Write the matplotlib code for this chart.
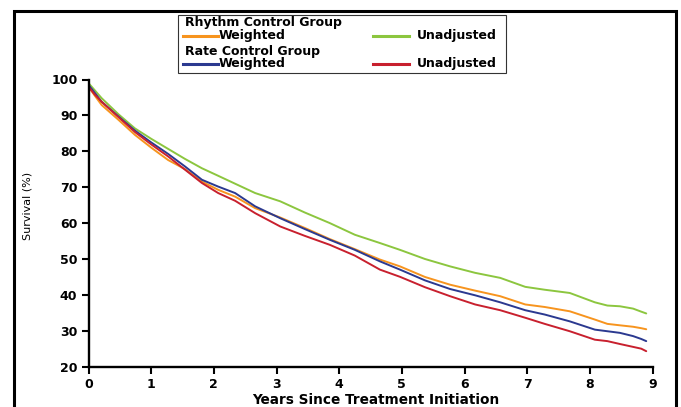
import matplotlib
matplotlib.use("Agg")
import matplotlib.pyplot as plt
from matplotlib.lines import Line2D
from matplotlib.patches import Rectangle

# ---- data ----
years = [0, 0.1, 0.21, 0.48, 0.74, 1.0, 1.27, 1.54, 1.81, 2.07, 2.34, 2.66, 3.06,
         3.45, 3.85, 4.25, 4.65, 4.97, 5.37, 5.77, 6.17, 6.57, 6.97, 7.28, 7.68,
         8.08, 8.28, 8.48, 8.69, 8.82, 8.9]
rhythm_weighted = [98.0, 95.5, 92.9, 88.75, 84.6, 81.05, 77.6, 75.05, 71.6, 69.3, 67.4,
                   64.2, 61.6, 58.7, 55.6, 52.8, 49.9, 48.0, 45.05, 42.9, 41.25, 39.7,
                   37.4, 36.7, 35.5, 33.2, 32.0, 31.6, 31.2, 30.8, 30.5]
rhythm_unadjusted = [99.0, 97.0, 94.8, 90.3, 86.4, 83.5, 80.7, 77.9, 75.3, 73.2, 71.0,
                     68.4, 66.1, 63.0, 60.05, 56.8, 54.5, 52.6, 50.05, 48.0, 46.2, 44.8,
                     42.3, 41.5, 40.6, 38.0, 37.1, 36.9, 36.25, 35.4, 34.9]
rate_weighted = [98.5, 96.3, 93.8, 89.7, 85.8, 82.5, 79.3, 75.8, 72.1, 70.2, 68.4,
                 64.7, 61.4, 58.4, 55.4, 52.6, 49.4, 47.1, 44.1, 41.7, 39.95, 38.0,
                 35.8, 34.6, 32.7, 30.4, 29.95, 29.5, 28.6, 27.8, 27.2]
rate_unadjusted = [98.0, 95.8, 93.8, 89.5, 85.4, 81.95, 78.6, 74.9, 71.2, 68.4, 66.25,
                   62.8, 59.1, 56.5, 54.0, 51.0, 47.1, 45.1, 42.2, 39.7, 37.4, 35.8,
                   33.7, 32.0, 29.95, 27.6, 27.2, 26.4, 25.6, 25.1, 24.4]

xticks = [0, 1, 2, 3, 4, 5, 6, 7, 8, 9]
yticks = [20, 30, 40, 50, 60, 70, 80, 90, 100]

ORANGE = "#F7941E"
GREEN = "#8CC63F"
BLUE = "#2B3990"
RED = "#C8202E"

W, H = 681, 407
fig = plt.figure(figsize=(W / 100, H / 100), dpi=100)


def fx(x):
    return x / W


def fy(y):
    return 1 - y / H


# axes placement in pixels
ax_l, ax_r, ax_t, ax_b = 88.5, 652.5, 79.5, 367.0
ax = fig.add_axes([fx(ax_l), fy(ax_b), fx(ax_r) - fx(ax_l), fy(ax_t) - fy(ax_b)])

lw = 1.4
ax.plot(years, rhythm_unadjusted, color=GREEN, lw=lw, solid_capstyle="round")
ax.plot(years, rhythm_weighted, color=ORANGE, lw=lw, solid_capstyle="round")
ax.plot(years, rate_weighted, color=BLUE, lw=lw, solid_capstyle="round")
ax.plot(years, rate_unadjusted, color=RED, lw=lw, solid_capstyle="round")

ax.set_xlim(0, 9)
ax.set_ylim(20, 100)
ax.set_xticks(xticks)
ax.set_yticks(yticks)
ax.set_xticklabels([str(t) for t in xticks], fontsize=9, fontweight="bold")
ax.set_yticklabels([str(t) for t in yticks], fontsize=9, fontweight="bold")
for s in ["top", "right"]:
    ax.spines[s].set_visible(False)
for s in ["left", "bottom"]:
    ax.spines[s].set_linewidth(1.7)
ax.tick_params(direction="out", length=5, width=1.5, pad=3)

fig.text(fx(376), fy(400), "Years Since Treatment Initiation", fontsize=9.8,
         fontweight="bold", ha="center", va="center")
fig.text(fx(28), fy(206), "Survival (%)", fontsize=8, rotation=90,
         ha="center", va="center")

# outer frame (bottom edge lies below the image)
frame = Rectangle((fx(14.3), fy(430)), fx(676) - fx(14.3), fy(10.5) - fy(430),
                  transform=fig.transFigure, fill=False, lw=2.2, ec="black",
                  clip_on=False)
fig.add_artist(frame)

# legend box
lg = Rectangle((fx(178), fy(73.3)), fx(506) - fx(178), fy(14.7) - fy(73.3),
               transform=fig.transFigure, fill=False, lw=0.8, ec="#333333")
fig.add_artist(lg)
fs = 9
fig.text(fx(185), fy(22.7), "Rhythm Control Group", fontsize=fs, fontweight="bold",
         va="center")
fig.text(fx(185), fy(51.3), "Rate Control Group", fontsize=fs, fontweight="bold",
         va="center")
for yrow, c1, c2 in [(36, ORANGE, GREEN), (64, BLUE, RED)]:
    fig.add_artist(Line2D([fx(183), fx(218)], [fy(yrow), fy(yrow)], color=c1, lw=2.2,
                          transform=fig.transFigure))
    fig.text(fx(219), fy(yrow), "Weighted", fontsize=fs, fontweight="bold", va="center")
    fig.add_artist(Line2D([fx(373), fx(409)], [fy(yrow), fy(yrow)], color=c2, lw=2.2,
                          transform=fig.transFigure))
    fig.text(fx(417), fy(yrow), "Unadjusted", fontsize=fs, fontweight="bold", va="center")

fig.savefig("out.png", dpi=100)
